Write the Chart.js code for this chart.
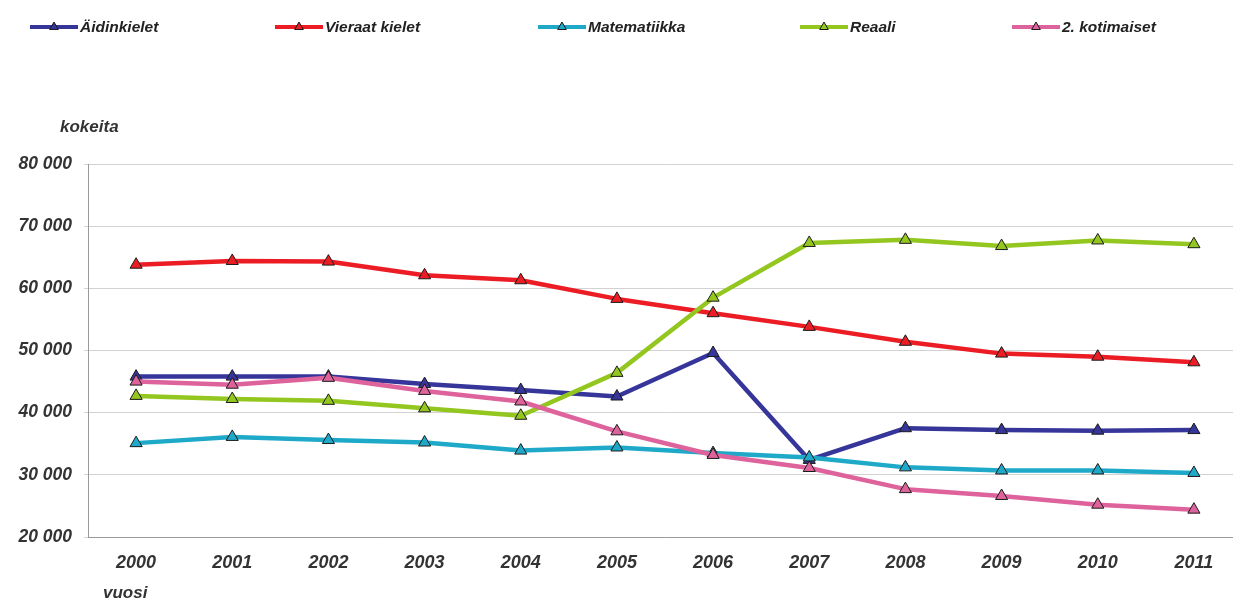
<!DOCTYPE html>
<html>
<head>
<meta charset="utf-8">
<script src="https://cdn.jsdelivr.net/npm/chart.js@4"></script>
<style>
  html, body { margin: 0; padding: 0; background: #ffffff; }
  #wrap { position: relative; width: 1233px; height: 610px; overflow: hidden; }
  #c { display: block; }
</style>
</head>
<body>
<div id="wrap"><canvas id="c" width="1250" height="610" style="width:1250px;height:610px"></canvas></div>
<script>
// ---- data ----
const years = ['2000','2001','2002','2003','2004','2005','2006','2007','2008','2009','2010','2011'];
const seriesNames = ['Äidinkielet', 'Vieraat kielet', 'Matematiikka', 'Reaali', '2. kotimaiset'];
const aidinkielet  = [45800, 45800, 45800, 44600, 43650, 42600, 49600, 32400, 37500, 37200, 37100, 37200];
const vieraat      = [63800, 64400, 64300, 62100, 61300, 58300, 56000, 53800, 51400, 49500, 49000, 48100];
const matematiikka = [35100, 36100, 35600, 35200, 33900, 34400, 33500, 32800, 31200, 30700, 30700, 30300];
const reaali       = [42700, 42200, 41900, 40700, 39500, 46400, 58500, 67300, 67800, 66800, 67700, 67100];
const kotimaiset   = [45000, 44500, 45600, 43500, 41800, 37000, 33200, 31100, 27700, 26600, 25200, 24400];
const yTicks = [20000, 30000, 40000, 50000, 60000, 70000, 80000];
const yTitle = 'kokeita';
const xTitle = 'vuosi';

// ---- styles ----
const colors = ['#35359a', '#ec1c24', '#1fa9c9', '#93c61f', '#de629b'];
const FONT = '"Liberation Sans", Arial, sans-serif';
const LEGEND_X = [30, 275, 538, 800, 1012];

function fmt(v) { return String(v).replace(/\B(?=(\d{3})+(?!\d))/g, ' '); }

const allSeries = [aidinkielet, vieraat, matematiikka, reaali, kotimaiset];
const datasets = allSeries.map((arr, i) => ({
  label: seriesNames[i],
  data: arr,
  borderColor: colors[i],
  backgroundColor: colors[i],
  borderWidth: 4.5,
  tension: 0,
  borderJoinStyle: 'round',
  borderCapStyle: 'round',
  pointStyle: 'triangle',
  pointRadius: 7,
  pointHoverRadius: 7,
  pointBackgroundColor: colors[i],
  pointBorderColor: '#1b1b1b',
  pointBorderWidth: 1,
  order: allSeries.length - i
}));

const extras = {
  id: 'extras',
  afterDraw(chart) {
    const ctx = chart.ctx;
    ctx.save();
    // legend
    chart.data.datasets.forEach((ds, i) => {
      const x0 = LEGEND_X[i], y = 27;
      ctx.strokeStyle = ds.borderColor;
      ctx.lineWidth = 4;
      ctx.lineCap = 'butt';
      ctx.beginPath(); ctx.moveTo(x0, y); ctx.lineTo(x0 + 48, y); ctx.stroke();
      // small triangle marker
      const r = 5, cx = x0 + 24;
      ctx.beginPath();
      ctx.moveTo(cx, y - r);
      ctx.lineTo(cx + r * 0.866, y + r * 0.5);
      ctx.lineTo(cx - r * 0.866, y + r * 0.5);
      ctx.closePath();
      ctx.fillStyle = ds.borderColor; ctx.fill();
      ctx.strokeStyle = '#1b1b1b'; ctx.lineWidth = 1; ctx.stroke();
      ctx.fillStyle = '#222';
      ctx.font = 'italic bold 15.5px ' + FONT;
      ctx.textBaseline = 'middle';
      ctx.textAlign = 'left';
      ctx.fillText(ds.label, x0 + 50, y + 1);
    });
    // axis titles
    ctx.fillStyle = '#333';
    ctx.font = 'italic bold 17px ' + FONT;
    ctx.textBaseline = 'middle';
    ctx.textAlign = 'left';
    ctx.fillText(yTitle, 60, 127);
    ctx.fillText(xTitle, 103, 593);
    ctx.restore();
  }
};

new Chart(document.getElementById('c'), {
  type: 'line',
  data: { labels: years, datasets },
  options: {
    responsive: false,
    devicePixelRatio: 1,
    animation: false,
    layout: { padding: { top: 164, right: 8, bottom: 0, left: 0 } },
    plugins: { legend: { display: false }, tooltip: { enabled: false } },
    scales: {
      x: {
        offset: true,
        grid: { display: true, drawOnChartArea: false, drawTicks: false, tickLength: 0 },
        border: { display: true, color: '#9a9a9a', width: 1 },
        ticks: { color: '#333', padding: 15, font: { family: FONT, size: 18, weight: 'bold', style: 'italic' } },
        afterFit(scale) { scale.height = 73; }
      },
      y: {
        min: 20000, max: 80000,
        afterBuildTicks(scale) { scale.ticks = yTicks.map(v => ({ value: v })); },
        grid: { color: '#d2d2d2', lineWidth: 1, tickLength: 4, drawTicks: true },
        border: { display: true, color: '#9a9a9a', width: 1 },
        ticks: {
          color: '#333', padding: 12,
          font: { family: FONT, size: 17.5, weight: 'bold', style: 'italic' },
          callback: v => fmt(v)
        },
        afterFit(scale) { scale.width = 88; }
      }
    }
  },
  plugins: [extras]
});
</script>
</body>
</html>
